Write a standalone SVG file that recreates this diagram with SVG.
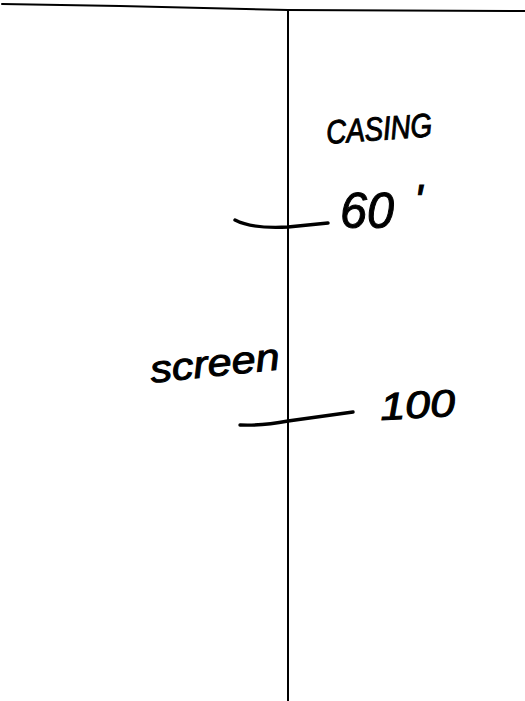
<svg xmlns="http://www.w3.org/2000/svg" width="525" height="701" viewBox="0 0 525 701">
<style>
.ln{fill:none;stroke:#000;stroke-width:2;stroke-linecap:round}
.tk{fill:none;stroke:#000;stroke-width:3.4;stroke-linecap:round}
.hw{font-family:"Liberation Sans",Arial,sans-serif;font-style:italic;fill:#000;stroke:#000;stroke-width:1}
</style>
<rect width="525" height="701" fill="#fff"/>
<g id="connectors">
<path id="surface" class="ln" d="M2,4 L120,6 L288,10 L525,11"/>
<path id="well" class="ln" d="M288,10 L288,701"/>
<path id="tick60" class="tk" d="M235,220 Q252,229 288,227 L328,223"/>
<path id="tick100" class="tk" d="M240,425 Q262,426 288,421 L353,412"/>
</g>
<g id="casing">
<text class="hw" x="326" y="140" font-size="33" textLength="106" lengthAdjust="spacingAndGlyphs" transform="rotate(-4 379 128)">CASING</text>
</g>
<g id="depth60">
<text class="hw" x="340" y="228" font-size="50" textLength="54" lengthAdjust="spacingAndGlyphs">60</text>
<text class="hw" x="414" y="216" font-size="44">'</text>
</g>
<g id="screen">
<text class="hw" x="150" y="376" font-size="38" textLength="130" lengthAdjust="spacingAndGlyphs" transform="rotate(-6 215 366)">screen</text>
</g>
<g id="depth100">
<text class="hw" x="380" y="418" font-size="38" textLength="75" lengthAdjust="spacingAndGlyphs" transform="rotate(-3 417 404)">100</text>
</g>
</svg>
